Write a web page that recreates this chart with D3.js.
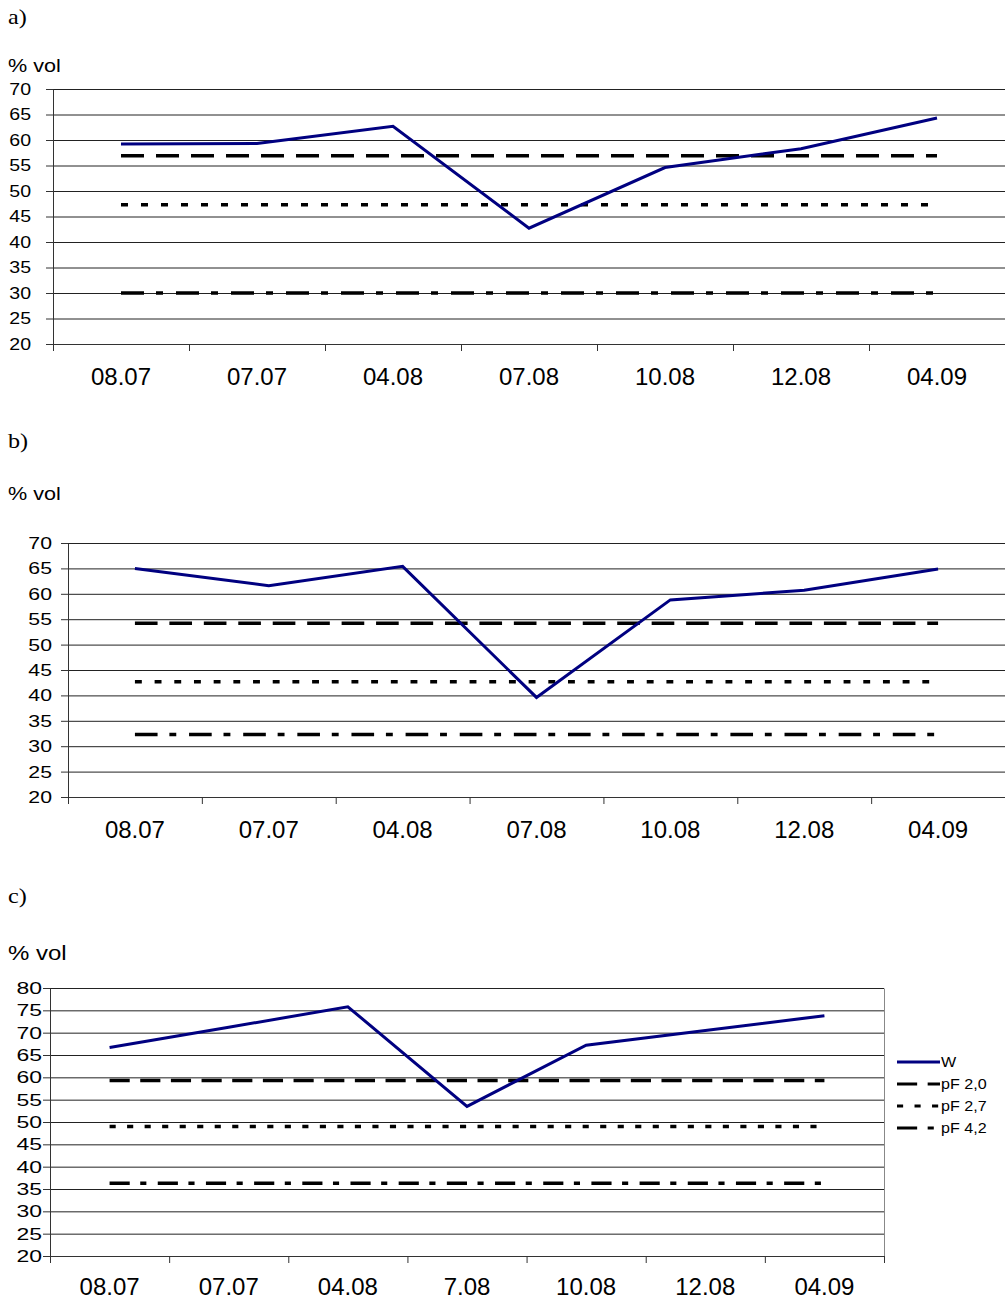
<!DOCTYPE html>
<html>
<head>
<meta charset="utf-8">
<script src="https://cdn.jsdelivr.net/npm/d3@7"></script>
<style>
  body { margin: 0; background: #fff; }
  svg { display: block; font-family: "Liberation Sans", Arial, sans-serif; }
</style>
</head>
<body>
<svg id="chart" width="1005" height="1299"></svg>
<script>
// dates on the x axis (panel c writes "7.08")
const datesAB = ["08.07", "07.07", "04.08", "07.08", "10.08", "12.08", "04.09"];
const datesC = ["08.07", "07.07", "04.08", "7.08", "10.08", "12.08", "04.09"];

// soil water content W, % vol
const wA = [59.2, 59.3, 62.7, 42.7, 54.6, 58.3, 64.3];
const wB = [65.0, 61.6, 65.4, 39.6, 58.8, 60.7, 64.9];
const wC = [66.7, 71.2, 75.8, 53.5, 67.2, 70.5, 73.8];

// reference levels, one value per panel (a, b, c)
const pf20 = [56.9, 54.2, 59.3];
const pf27 = [47.3, 42.7, 49.0];
const pf42 = [30.0, 32.3, 36.3];

const yTicksAB = [20, 25, 30, 35, 40, 45, 50, 55, 60, 65, 70];
const yTicksC = [20, 25, 30, 35, 40, 45, 50, 55, 60, 65, 70, 75, 80];

const legendNames = ["W", "pF 2,0", "pF 2,7", "pF 4,2"];

// dash patterns at a category width of 136px
const dashes = [null, [23, 12], [7, 13], [23, 12, 7, 13]];

const svg = d3.select("#chart");

const panels = [
  { letter: "a)", letterY: 24, volY: 72, volSize: 18, volSx: 1.2,
    left: 53, right: 1005, top: 89, bottom: 344,
    dates: datesAB, w: wA, idx: 0, ticks: yTicksAB, ySize: 17, ySx: 1.15, yPad: 15,
    border: false, legend: false },
  { letter: "b)", letterY: 448, volY: 500, volSize: 18, volSx: 1.2,
    left: 68, right: 1005, top: 543, bottom: 797,
    dates: datesAB, w: wB, idx: 1, ticks: yTicksAB, ySize: 17, ySx: 1.25, yPad: 9,
    border: false, legend: false },
  { letter: "c)", letterY: 903, volY: 960, volSize: 20, volSx: 1.2,
    left: 50, right: 884, top: 988, bottom: 1256,
    dates: datesC, w: wC, idx: 2, ticks: yTicksC, ySize: 17, ySx: 1.35, yPad: 1,
    border: true, legend: true },
];

function stretchedText(g, txt, x, y, size, sx, family) {
  return g.append("text")
    .attr("transform", `translate(${x},${y}) scale(${sx},1)`)
    .attr("font-size", size)
    .attr("font-family", family || null)
    .text(txt);
}

function drawPanel(p) {
  const g = svg.append("g");
  const plotW = p.right - p.left;
  const last = p.ticks[p.ticks.length - 1];

  const x = d3.scaleBand().domain(p.dates).range([p.left, p.right]);
  const xEdge = d3.scaleLinear().domain([0, p.dates.length]).range([p.left, p.right]);
  const y = d3.scaleLinear().domain([p.ticks[0], last]).range([p.bottom, p.top]);
  const xc = (d) => x(d) + x.bandwidth() / 2;
  const k = x.bandwidth() / 136;

  stretchedText(g, p.letter, 8, p.letterY, 21, 1.15, "Liberation Serif, Times New Roman, serif");
  stretchedText(g, "% vol", 8, p.volY, p.volSize, p.volSx);

  // gridlines
  g.append("g")
    .attr("transform", `translate(${p.left},0)`)
    .call(d3.axisLeft(y).tickValues(p.ticks).tickSize(-plotW).tickFormat(""))
    .call((s) => s.select(".domain").remove())
    .selectAll("line").attr("stroke", "#222");

  if (p.border) {
    g.append("g")
      .attr("transform", `translate(${p.right},0)`)
      .call(d3.axisRight(y).tickValues([]).tickSizeOuter(0))
      .select(".domain").attr("stroke", "#888");
  }

  // y axis
  const ya = g.append("g")
    .attr("transform", `translate(${p.left},0)`)
    .call(d3.axisLeft(y).tickValues(p.ticks).tickSize(7).tickSizeOuter(0));
  ya.select(".domain").attr("stroke", "#333");
  ya.selectAll("line").attr("stroke", "#333");
  ya.selectAll("text")
    .attr("x", 0)
    .attr("font-size", p.ySize)
    .attr("font-family", "Liberation Sans, Arial, sans-serif")
    .attr("fill", "#000")
    .attr("transform", `translate(${-(7 + p.yPad)},0) scale(${p.ySx},1)`);

  // x axis: boundary ticks
  const xa = g.append("g")
    .attr("transform", `translate(0,${p.bottom})`)
    .call(d3.axisBottom(xEdge).tickValues(d3.range(p.dates.length + 1)).tickFormat("").tickSize(7).tickSizeOuter(0));
  xa.select(".domain").attr("stroke", "#333");
  xa.selectAll("line").attr("stroke", "#333");

  // x axis: category labels
  const xl = g.append("g")
    .attr("transform", `translate(0,${p.bottom})`)
    .call(d3.axisBottom(x).tickSize(0).tickPadding(p.legend ? 22 : 24));
  xl.select(".domain").remove();
  xl.selectAll("text")
    .attr("font-size", 24)
    .attr("font-family", "Liberation Sans, Arial, sans-serif")
    .attr("fill", "#000");

  const line = d3.line().x((d) => xc(d.c)).y((d) => y(d.v));

  const levels = [pf20[p.idx], pf27[p.idx], pf42[p.idx]];
  levels.forEach((v, i) => {
    g.append("path")
      .datum(p.dates.map((c) => ({ c, v })))
      .attr("d", line)
      .attr("fill", "none")
      .attr("stroke", "#000")
      .attr("stroke-width", 3.5)
      .attr("stroke-dasharray", dashes[i + 1].map((d) => d * k).join(","));
  });

  g.append("path")
    .datum(p.dates.map((c, i) => ({ c, v: p.w[i] })))
    .attr("d", line)
    .attr("fill", "none")
    .attr("stroke", "#000080")
    .attr("stroke-width", 3)
    .attr("stroke-linejoin", "miter");

  if (p.legend) {
    const ly = d3.scalePoint().domain(legendNames).range([1062, 1128]);
    const lg = g.append("g");
    legendNames.forEach((name, i) => {
      lg.append("line")
        .attr("x1", 897).attr("x2", 940)
        .attr("y1", ly(name)).attr("y2", ly(name))
        .attr("stroke", i === 0 ? "#000080" : "#000")
        .attr("stroke-width", 3)
        .attr("stroke-dasharray", dashes[i] ? dashes[i].map((d) => d * k).join(",") : null);
      stretchedText(lg, name, 941, ly(name) + 5, 14, 1.15);
    });
  }
}

panels.forEach(drawPanel);
</script>
</body>
</html>
